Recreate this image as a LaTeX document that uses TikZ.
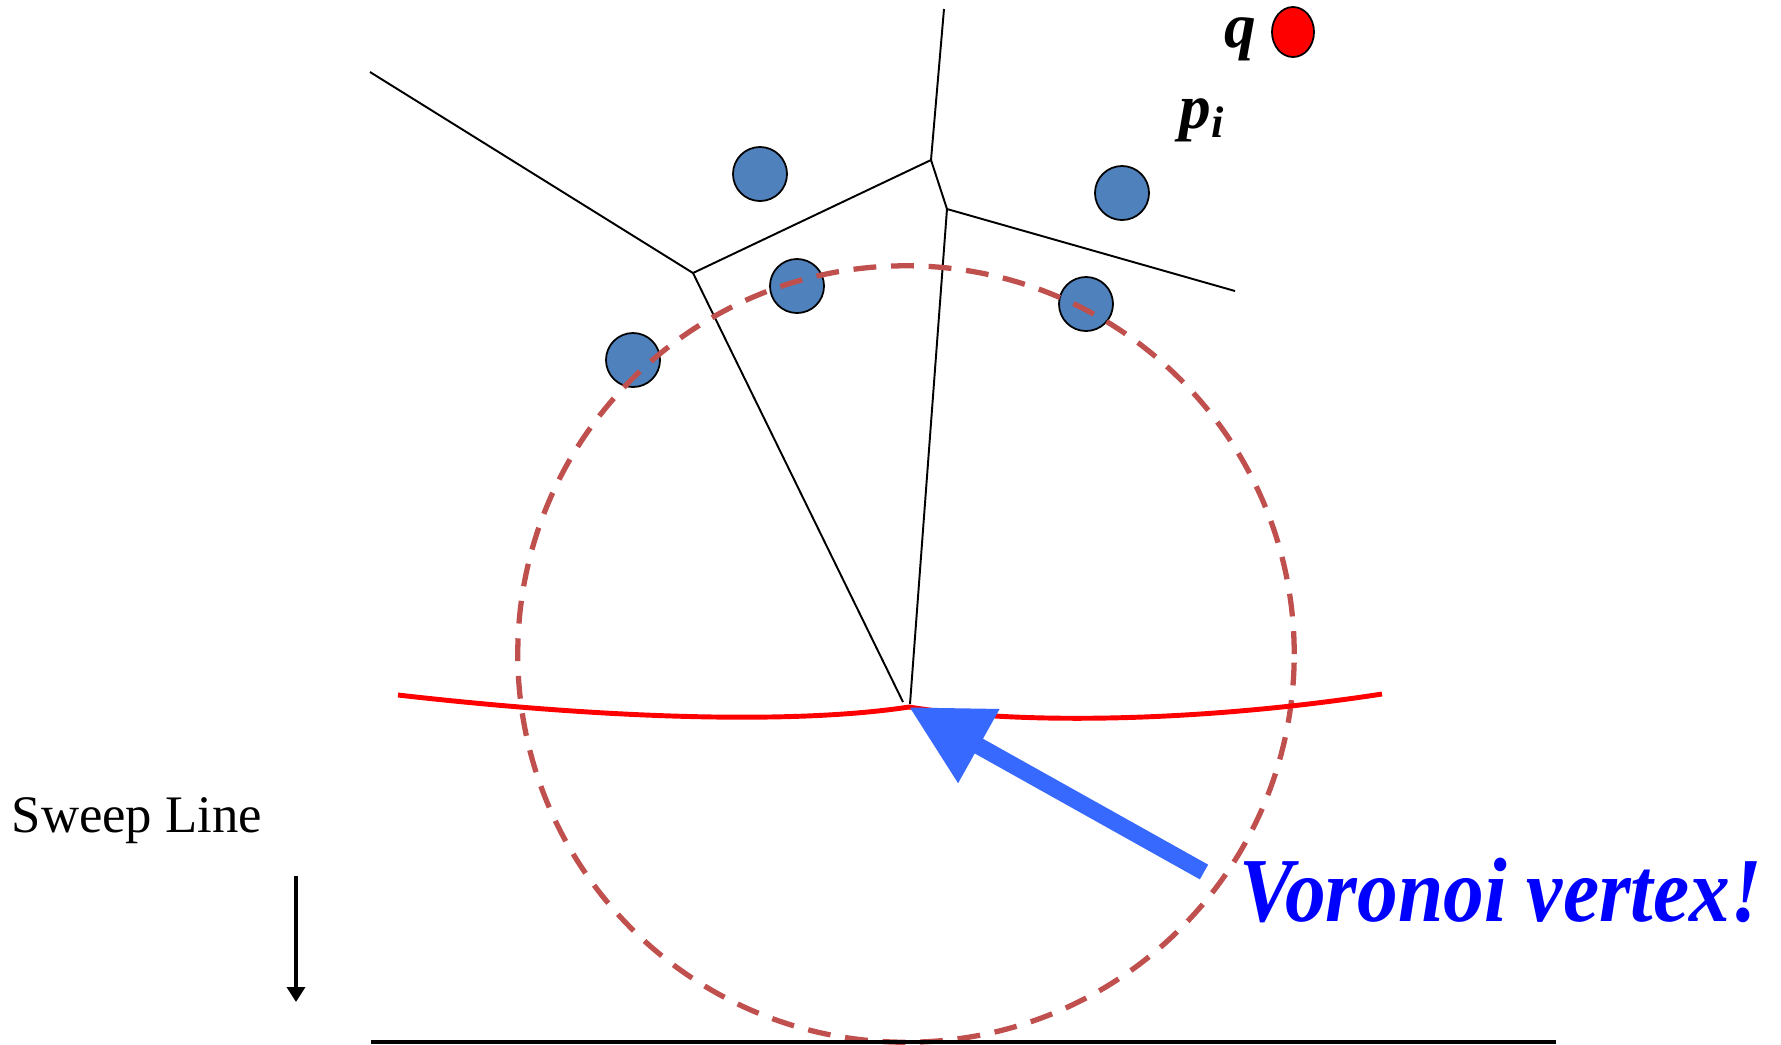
\documentclass[tikz,border=0pt]{standalone}
\usepackage{fontspec}
\setmainfont{Liberation Serif}
\usetikzlibrary{arrows.meta,shapes.geometric}
\definecolor{sitefill}{HTML}{4F81BD}
\definecolor{circred}{HTML}{C0504D}
\definecolor{arrowblue}{HTML}{3869FF}

\begin{document}
\begin{tikzpicture}[x=0.01cm, y=-0.01cm, >=Latex,
  site/.style={circle, draw, fill=sitefill, line width=0.5pt, minimum size=5.4mm, inner sep=0pt},
  vedge/.style={line width=0.55pt},
  every node/.style={font=\fontsize{15}{18}\selectfont}]
\useasboundingbox (0,0) rectangle (1781,1044);
% voronoi vertices and edge ends
\coordinate (a) at (370,72);
\coordinate (top) at (944,9);
\coordinate (r) at (1235,291);
\coordinate (v1) at (693,273);
\coordinate (v2) at (931,160);
\coordinate (v3) at (947,209);
\coordinate (e1) at (903,702);
\coordinate (e2) at (910,704);
\coordinate (vv) at (909,707);
\draw[vedge] (a) -- (v1) -- (v2);
\draw[vedge] (top) -- (v2) -- (v3) -- (r);
\draw[vedge] (v1) -- (e1);
\draw[vedge] (v3) -- (e2);
% sites
\node[site] (s1) at (760,174) {};
\node[site] (s2) at (1122,193) {};
\node[site] (s3) at (797,286) {};
\node[site] (s4) at (633,360) {};
\node[site] (s5) at (1086,304) {};
\node[ellipse, draw, fill=red, line width=0.5pt, minimum width=4.2mm, minimum height=5mm, inner sep=0pt] (q) at (1293,32) {};
\node[anchor=base, inner sep=0pt, font=\fontsize{18}{22}\selectfont\bfseries\itshape] (qlab) at (1240,47) {q};
\node[anchor=base west, inner sep=0pt, font=\fontsize{18}{22}\selectfont\bfseries\itshape] (plab) at (1179,128) {p\textsubscript{i}};
% empty circle
\draw[circred, line width=1.5pt, dash pattern=on 6.5pt off 4.2pt] (906,654) circle[radius=3.88cm];
% beach line
\draw[red, line width=1.4pt] (398,695) .. controls (600,718) and (790,725) .. (vv)
  .. controls (1020,725) and (1200,722) .. (1382,694);
% pointer
\coordinate (tail) at (1204,872);
\draw[arrowblue, line width=4.8pt, -{Triangle[length=8mm, width=8mm]}] (tail) -- (vv);
\node[anchor=base west, text=blue, inner sep=0pt, font=\fontsize{26}{30}\selectfont\bfseries\itshape] (vlab) at (1239,921) {\scalebox{0.89}[1]{Voronoi vertex!}};
% sweep line
\node[anchor=base west, inner sep=0pt] (slab) at (11,832) {Sweep Line};
\coordinate (sa) at (296,876);
\coordinate (sb) at (296,1002);
\draw[line width=1pt, -{Triangle[length=1.5mm, width=1.8mm]}] (sa) -- (sb);
\coordinate (bl) at (371,1042);
\coordinate (br) at (1556,1042);
\draw[line width=0.9pt] (bl) -- (br);
\end{tikzpicture}
\end{document}
